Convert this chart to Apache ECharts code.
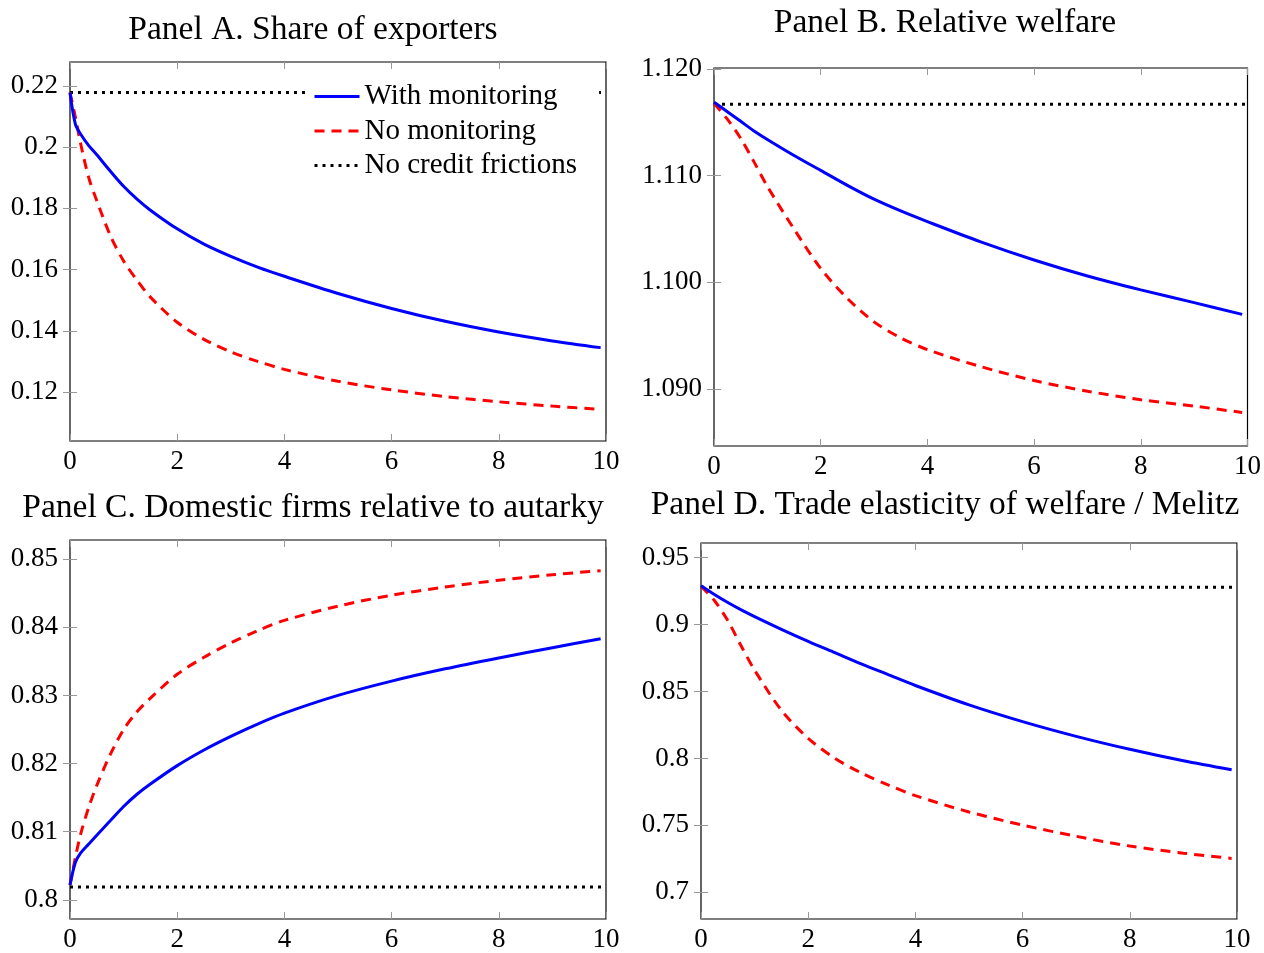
<!DOCTYPE html>
<html>
<head>
<meta charset="utf-8">
<script src="https://cdn.jsdelivr.net/npm/echarts@6/dist/echarts.min.js"></script>
<style>
html,body{margin:0;padding:0;background:#fff;}
#chart{width:1264px;height:953px;}
</style>
</head>
<body>
<div id="chart"></div>
<script>
// ---------- data ----------
var xFine = [0, 0.1, 0.2, 0.35, 0.5, 0.75, 1, 1.25, 1.5, 2, 2.5, 3, 3.5, 4, 5, 6, 7, 8, 9, 9.9];
var xCoarse = [0, 0.25, 0.5, 0.75, 1, 1.5, 2, 2.5, 3, 3.5, 4, 5, 6, 7, 8, 9, 9.9];

// Panel A. Share of exporters (x = xFine)
var withMonA = [0.2178, 0.2075, 0.2042, 0.2005, 0.1975, 0.1922, 0.1872, 0.1830, 0.1794, 0.1733, 0.1683, 0.1643, 0.1608, 0.1578, 0.1522, 0.1473, 0.1431, 0.1396, 0.1367, 0.1345];
var noMonA   = [0.2178, 0.2098, 0.2010, 0.1900, 0.1825, 0.1712, 0.1628, 0.1565, 0.1510, 0.1428, 0.1372, 0.1331, 0.1300, 0.1274, 0.1235, 0.1207, 0.1185, 0.1168, 0.1154, 0.1143];
var noFricA = 0.2178;

// Panel B. Relative welfare (x = xCoarse)
var withMonB = [1.1169, 1.1160, 1.1151, 1.1142, 1.1134, 1.1119, 1.1105, 1.1091, 1.1078, 1.1067, 1.1057, 1.1038, 1.1021, 1.1006, 1.0993, 1.0981, 1.0970];
var noMonB   = [1.1168, 1.1153, 1.1135, 1.1113, 1.1090, 1.1050, 1.1013, 1.0985, 1.0963, 1.0948, 1.0937, 1.0921, 1.0908, 1.0898, 1.0890, 1.0884, 1.0878];
var noFricB = 1.1167;

// Panel C. Domestic firms relative to autarky (x = xFine)
var withMonC = [0.8022, 0.8055, 0.8069, 0.8082, 0.8095, 0.8116, 0.8137, 0.8155, 0.8170, 0.8197, 0.8220, 0.8240, 0.8258, 0.8274, 0.8300, 0.8321, 0.8339, 0.8355, 0.8370, 0.8383];
var noMonC   = [0.8022, 0.8062, 0.8097, 0.8136, 0.8168, 0.8213, 0.8250, 0.8276, 0.8296, 0.8331, 0.8356, 0.8377, 0.8395, 0.8410, 0.8431, 0.8447, 0.8459, 0.8469, 0.8477, 0.8483];
var noFricC = 0.8019;

// Panel D. Trade elasticity of welfare / Melitz (x = xCoarse)
var withMonD = [0.9290, 0.9225, 0.9165, 0.9110, 0.9060, 0.8965, 0.8875, 0.8790, 0.8705, 0.8625, 0.8545, 0.8400, 0.8275, 0.8165, 0.8068, 0.7982, 0.7915];
var noMonD   = [0.9288, 0.9180, 0.9030, 0.8840, 0.8660, 0.8360, 0.8150, 0.8000, 0.7890, 0.7800, 0.7722, 0.7600, 0.7502, 0.7418, 0.7345, 0.7292, 0.7253];
var noFricD = 0.9279;

// ticks
var xTicks = [0, 2, 4, 6, 8, 10];
var yTicksA = [0.12, 0.14, 0.16, 0.18, 0.2, 0.22];
var yTickLabelsA = ['0.12', '0.14', '0.16', '0.18', '0.2', '0.22'];
var yTicksB = [1.09, 1.10, 1.11, 1.12];
var yTickLabelsB = ['1.090', '1.100', '1.110', '1.120'];
var yTicksC = [0.80, 0.81, 0.82, 0.83, 0.84, 0.85];
var yTickLabelsC = ['0.8', '0.81', '0.82', '0.83', '0.84', '0.85'];
var yTicksD = [0.70, 0.75, 0.80, 0.85, 0.90, 0.95];
var yTickLabelsD = ['0.7', '0.75', '0.8', '0.85', '0.9', '0.95'];

var titles = ['Panel A. Share of exporters', 'Panel B. Relative welfare',
              'Panel C. Domestic firms relative to autarky', 'Panel D. Trade elasticity of welfare / Melitz'];
var seriesNames = ['With monitoring', 'No monitoring', 'No credit frictions'];

// ---------- layout ----------
var FONT = 'Liberation Serif';
var panels = [
  {grid:{left:70, top:62, width:536, height:379}, ymin:0.104, ymax:0.2278, yt:yTicksA, yl:yTickLabelsA, x:xFine, w:withMonA, n:noMonA, f:noFricA, tx:308, ty:8},
  {grid:{left:714, top:68, width:536, height:378}, ymin:1.08466, ymax:1.1201, yt:yTicksB, yl:yTickLabelsB, x:xCoarse, w:withMonB, n:noMonB, f:noFricB, tx:940, ty:1},
  {grid:{left:70, top:540, width:536, height:379}, ymin:0.7972, ymax:0.8528, yt:yTicksC, yl:yTickLabelsC, x:xFine, w:withMonC, n:noMonC, f:noFricC, tx:308, ty:486},
  {grid:{left:701, top:543, width:536, height:379}, ymin:0.68, ymax:0.961, yt:yTicksD, yl:yTickLabelsD, x:xCoarse, w:withMonD, n:noMonD, f:noFricD, tx:940, ty:483}
];

function pairs(xs, ys) { return xs.map(function (x, i) { return [x, ys[i]]; }); }

var option = {
  animation: false,
  backgroundColor: '#fff',
  title: [], grid: [], xAxis: [], yAxis: [], series: [],
  legend: {
    data: seriesNames,
    orient: 'vertical',
    left: 308, top: 77,
    padding: [5, 22, 5, 5],
    backgroundColor: '#fff',
    itemWidth: 45, itemHeight: 20, itemGap: 5.5,
    itemStyle: {opacity: 0, borderWidth: 0},
    lineStyle: {width: 3},
    textStyle: {fontFamily: FONT, fontSize: 29, color: '#000', lineHeight: 28},
    selectedMode: false,
    z: 10
  }
};

var tickStyle = {show: true, inside: true, length: 7, lineStyle: {color: '#999', width: 1}};

panels.forEach(function (p, i) {
  option.title.push({
    text: titles[i], left: p.tx, top: p.ty, textAlign: 'center',
    textStyle: {fontFamily: FONT, fontSize: 33.5, fontWeight: 'normal', color: '#000'}
  });
  option.grid.push(Object.assign({show: true, borderColor: '#000', borderWidth: 1.2, backgroundColor: 'transparent'}, p.grid));
  option.xAxis.push({
    type: 'value', gridIndex: i, min: 0, max: 10, position: 'bottom',
    axisLine: {show: false}, splitLine: {show: false},
    axisTick: Object.assign({customValues: xTicks}, tickStyle),
    axisLabel: {customValues: xTicks, fontFamily: FONT, fontSize: 27, color: '#000', margin: 7}
  });
  option.xAxis.push({
    type: 'value', gridIndex: i, min: 0, max: 10, position: 'top',
    axisLine: {show: false}, splitLine: {show: false},
    axisTick: Object.assign({customValues: xTicks}, tickStyle),
    axisLabel: {show: false}
  });
  var yl = p.yl, yt = p.yt;
  option.yAxis.push({
    type: 'value', gridIndex: i, min: p.ymin, max: p.ymax, position: 'left',
    axisLine: {show: false}, splitLine: {show: false},
    axisTick: Object.assign({customValues: yt}, tickStyle),
    axisLabel: {
      customValues: yt, fontFamily: FONT, fontSize: 27, color: '#000', margin: 12,
      formatter: function (v) {
        for (var k = 0; k < yt.length; k++) { if (Math.abs(yt[k] - v) < 1e-9) return yl[k]; }
        return '';
      }
    }
  });
  option.yAxis.push({
    type: 'value', gridIndex: i, min: p.ymin, max: p.ymax, position: 'right',
    axisLine: {show: false}, splitLine: {show: false},
    axisTick: Object.assign({customValues: yt}, tickStyle),
    axisLabel: {show: false}
  });
  var xi = i * 2, yi = i * 2;
  option.series.push({
    name: seriesNames[2], type: 'line', xAxisIndex: xi, yAxisIndex: yi,
    data: [[0, p.f], [10, p.f]], symbol: 'none', silent: true,
    lineStyle: {color: '#000', width: 3, type: [3, 5], cap: 'butt'}, itemStyle: {color: '#000'}, z: 2
  });
  option.series.push({
    name: seriesNames[1], type: 'line', xAxisIndex: xi, yAxisIndex: yi,
    data: pairs(p.x, p.n), symbol: 'none', smooth: 0.3, silent: true,
    lineStyle: {color: '#ff0000', width: 3, type: [10, 7], cap: 'butt'}, itemStyle: {color: '#ff0000'}, z: 3
  });
  option.series.push({
    name: seriesNames[0], type: 'line', xAxisIndex: xi, yAxisIndex: yi,
    data: pairs(p.x, p.w), symbol: 'none', smooth: 0.3, silent: true,
    lineStyle: {color: '#0000ff', width: 3}, itemStyle: {color: '#0000ff'}, z: 4
  });
});

var chart = echarts.init(document.getElementById('chart'), null, {renderer: 'canvas'});
chart.setOption(option);
</script>
</body>
</html>
